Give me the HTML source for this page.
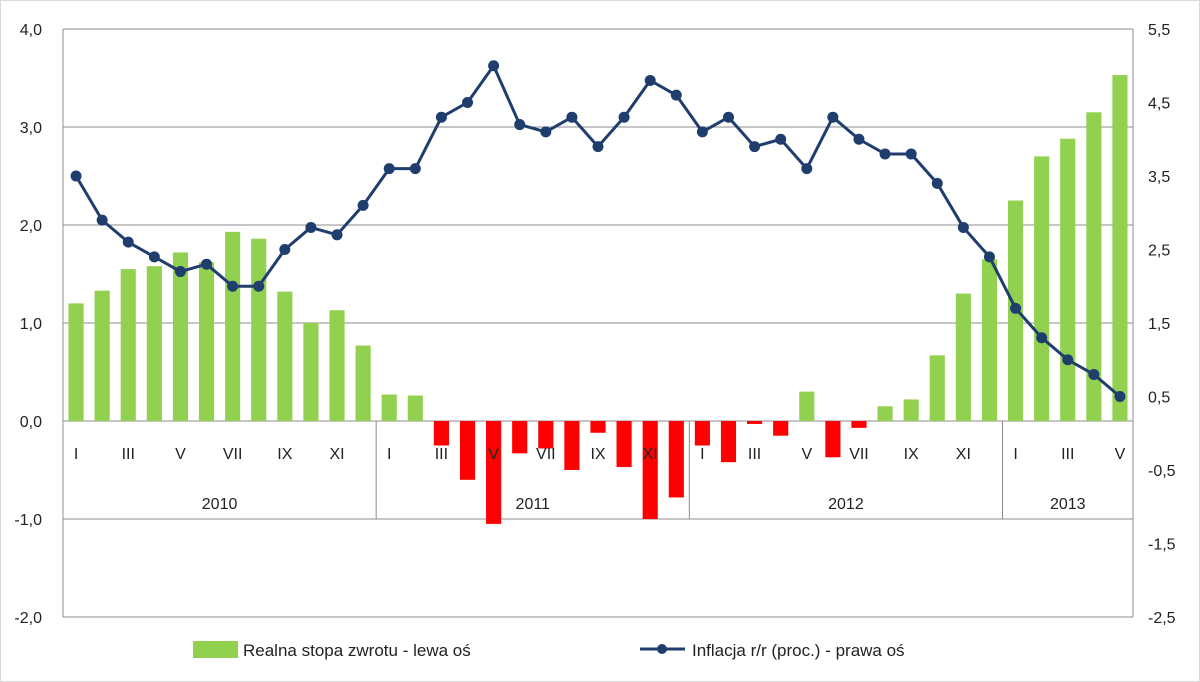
<!DOCTYPE html>
<html><head><meta charset="utf-8"><style>
body{margin:0;background:#fff;}
svg{display:block;font-family:"Liberation Sans",sans-serif;}
</style></head><body>
<svg id="chart" width="1200" height="682" viewBox="0 0 1200 682">
<rect x="0.5" y="0.5" width="1199" height="681" fill="#fff" stroke="#d9d9d9"/>
<g id="grid"></g>
<g id="bars"></g>
<g id="axes"></g>
<g id="line"></g>
<g>
<rect x="193" y="641" width="45" height="17" fill="#92d050"/>
<text x="243" y="656" font-size="17" fill="#222">Realna stopa zwrotu - lewa oś</text>
<line x1="640" y1="649" x2="685" y2="649" stroke="#1f3e6e" stroke-width="3"/>
<circle cx="662" cy="649" r="5" fill="#1f3e6e"/>
<text x="692" y="656" font-size="17" fill="#222">Inflacja r/r (proc.) - prawa oś</text>
</g>
</svg>
<script>
const months = ["I","II","III","IV","V","VI","VII","VIII","IX","X","XI","XII"];
const years = ["2010","2011","2012","2013"];
const realReturn = [1.2,1.33,1.55,1.58,1.72,1.62,1.93,1.86,1.32,1.0,1.13,0.77,
 0.27,0.26,-0.25,-0.6,-1.05,-0.33,-0.28,-0.5,-0.12,-0.47,-1.0,-0.78,
 -0.25,-0.42,-0.03,-0.15,0.3,-0.37,-0.07,0.15,0.22,0.67,1.3,1.65,
 2.25,2.7,2.88,3.15,3.53];
const inflation = [3.5,2.9,2.6,2.4,2.2,2.3,2.0,2.0,2.5,2.8,2.7,3.1,
 3.6,3.6,4.3,4.5,5.0,4.2,4.1,4.3,3.9,4.3,4.8,4.6,
 4.1,4.3,3.9,4.0,3.6,4.3,4.0,3.8,3.8,3.4,2.8,2.4,
 1.7,1.3,1.0,0.8,0.5];
const leftTicks = ["4,0","3,0","2,0","1,0","0,0","-1,0","-2,0"];
const rightTicks = ["5,5","4,5","3,5","2,5","1,5","0,5","-0,5","-1,5","-2,5"];

const NS="http://www.w3.org/2000/svg";
const X0=63,X1=1133,YT=29,YB=617;
const n=realReturn.length, cw=(X1-X0)/n;
const yL=v=>YT+(4-v)*(YB-YT)/6;
const yR=v=>YT+(5.5-v)*(YB-YT)/8;
const xC=i=>X0+cw*(i+0.5);
function mk(tag,attrs,parent){const e=document.createElementNS(NS,tag);for(const k in attrs)e.setAttribute(k,attrs[k]);parent.appendChild(e);return e;}
const grid=document.getElementById('grid'),bars=document.getElementById('bars'),axes=document.getElementById('axes'),line=document.getElementById('line');

leftTicks.forEach((t,i)=>{const v=parseFloat(t.replace(',','.'));const y=yL(v);
 const g=mk('line',{x1:X0,x2:X1,y1:y,y2:y,stroke:'#8c8c8c','stroke-width':1},grid);
 
 
 const tx=mk('text',{x:42,y:y+6,'font-size':16,'text-anchor':'end',fill:'#222'},axes);tx.textContent=t;
 
 
});
rightTicks.forEach(t=>{const v=parseFloat(t.replace(',','.'));const y=yR(v);
 const tx=mk('text',{x:1148,y:y+6,'font-size':16,fill:'#222'},axes);tx.textContent=t;
 
 
});
[X0,X1].forEach(x=>{const a=mk('line',{x1:x,x2:x,y1:YT,y2:YB,stroke:'#8c8c8c'},axes);
 
 });

realReturn.forEach((v,i)=>{const y0=yL(0),y=yL(v);
 const r=mk('rect',{x:xC(i)-cw*0.29,width:cw*0.58,y:Math.min(y,y0),height:Math.abs(y-y0),fill:v>=0?'#92d050':'#ff0000'},bars);
 
 
});

// category axis
const yz=yL(0), ylow=yL(-1);
for(let i=0;i<n;i++){ if(i%2===0){const t=mk('text',{x:xC(i),y:yz+38,'font-size':16,'text-anchor':'middle',fill:'#222'},axes);t.textContent=months[i%12];
 
 }}
for(let k=0;k<=years.length;k++){const i=Math.min(k*12,n);const x=X0+cw*i;
 const s=mk('line',{x1:x,x2:x,y1:yz,y2:ylow,stroke:'#8c8c8c'},axes);
 
 
 if(k<years.length){const e=Math.min((k+1)*12,n);const t=mk('text',{x:X0+cw*(i+e)/2,y:ylow-10,'font-size':16,'text-anchor':'middle',fill:'#222'},axes);t.textContent=years[k];
 
 }
}

const pts=inflation.map((v,i)=>xC(i)+','+yR(v)).join(' ');
const pl=mk('polyline',{points:pts,fill:'none',stroke:'#1f3e6e','stroke-width':3,'stroke-linejoin':'round'},line);


inflation.forEach((v,i)=>{const c=mk('circle',{cx:xC(i),cy:yR(v),r:5.5,fill:'#1f3e6e'},line);
 
 });
</script>
</body></html>
